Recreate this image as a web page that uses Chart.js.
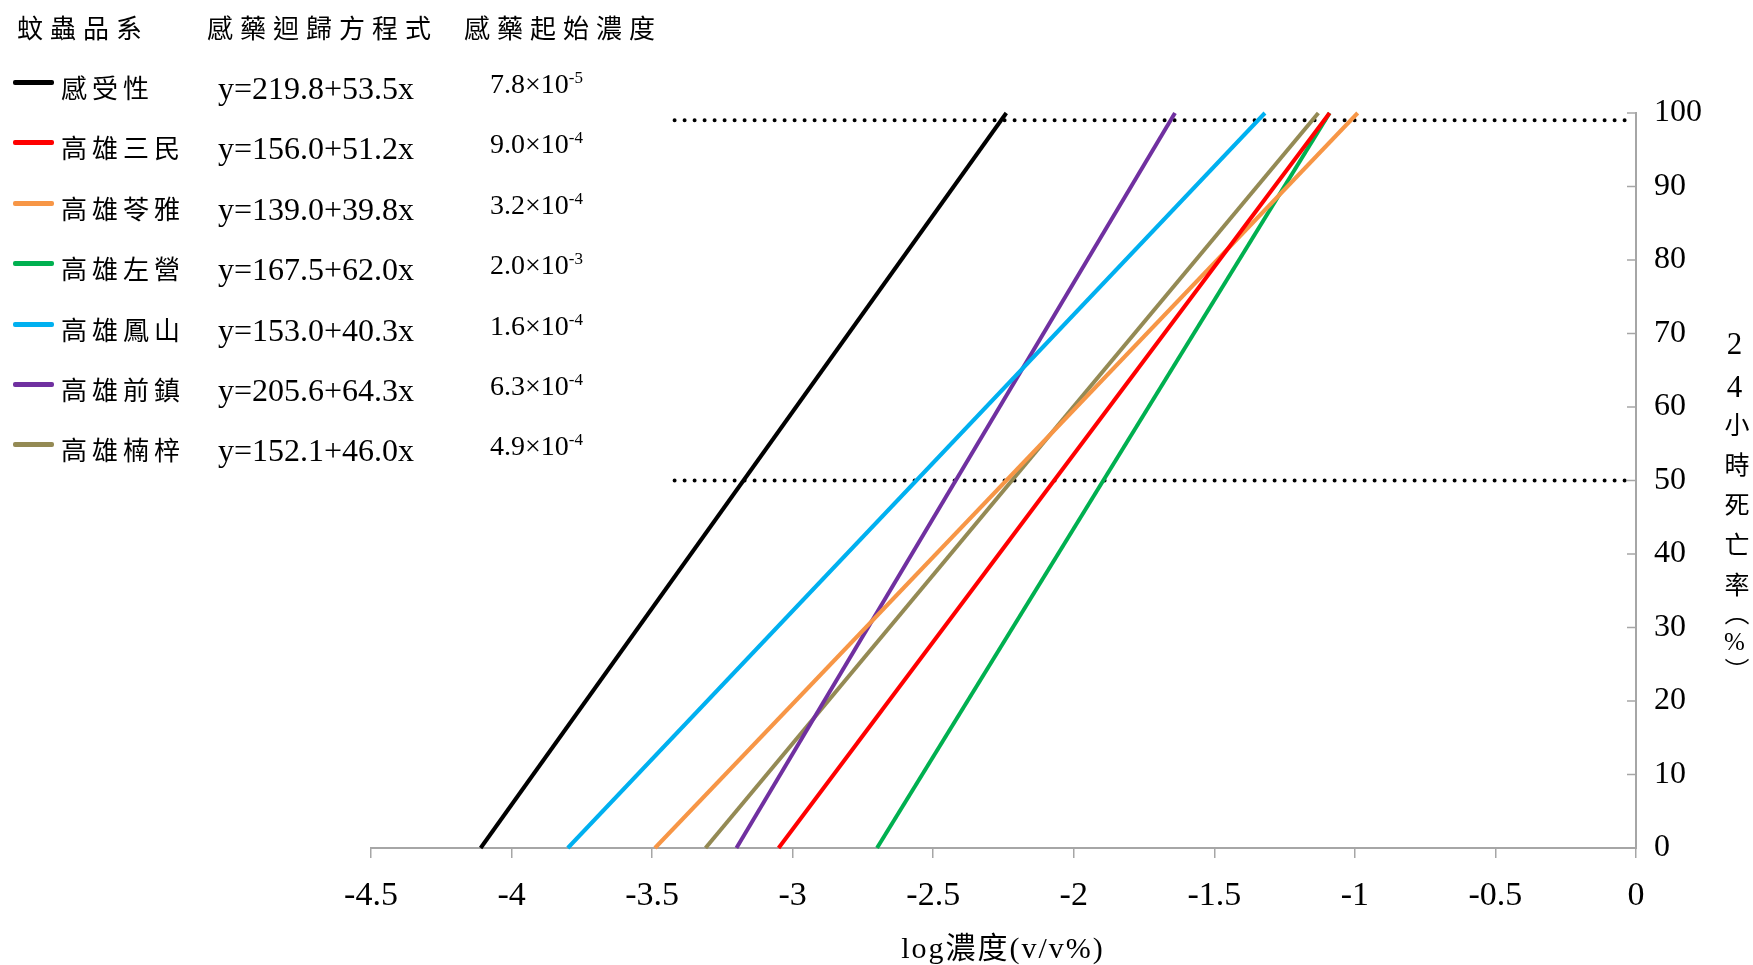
<!DOCTYPE html>
<html>
<head>
<meta charset="utf-8">
<script src="https://cdn.jsdelivr.net/npm/chart.js@4.4.1/dist/chart.umd.min.js"></script>
<style>
  body { margin: 0; background: #fff; }
  #wrap { position: relative; width: 1753px; height: 965px; overflow: hidden; }
  #chart { position: absolute; left: 0; top: 0; }
  .txt { position: absolute; white-space: nowrap; color: #000; line-height: 1; }
  .cjk { font-family: "Noto Sans CJK TC", sans-serif; font-size: 26px; }
  .num { font-family: "Liberation Serif", "Noto Sans CJK TC", serif; }
  .swatch { position: absolute; left: 13px; width: 41px; height: 5px; border-radius: 2px; }
  #ytitle {
    position: absolute; left: 1719px; top: 326px;
    writing-mode: vertical-rl; text-orientation: upright;
    font-family: "Liberation Serif", "Noto Sans CJK TC", serif;
    font-size: 25px; letter-spacing: 15px; line-height: 1;
  }
  #ytitle .dig { font-size: 31px; letter-spacing: 8px; }
  #ytitle .tight { letter-spacing: 3px; }
  #xtitle {
    position: absolute; left: 1003px; top: 933px; transform: translateX(-50%);
    font-family: "Liberation Serif", "Noto Sans CJK TC", serif;
    font-size: 30px; letter-spacing: 2px; line-height: 1; white-space: nowrap;
  }
  sup { font-size: 17px; vertical-align: 10px; line-height: 0; }
</style>
</head>
<body>
<div id="wrap">
  <canvas id="chart" width="1753" height="965"></canvas>
  <div class="txt cjk" style="left:17px;top:14px;letter-spacing:7px">蚊蟲品系</div>
  <div class="txt cjk" style="left:207px;top:14px;letter-spacing:7px">感藥迴歸方程式</div>
  <div class="txt cjk" style="left:464px;top:14px;letter-spacing:7px">感藥起始濃度</div>
  <div id="legend"></div>
  <div id="ytitle"><span class="dig">24</span>小時死亡<span class="tight">率（%）</span></div>
  <div id="xtitle">log濃度(v/v%)</div>
</div>
<script>
// 品系與迴歸式
const strains = ['感受性', '高雄三民', '高雄苓雅', '高雄左營', '高雄鳳山', '高雄前鎮', '高雄楠梓'];
const equations = ['y=219.8+53.5x', 'y=156.0+51.2x', 'y=139.0+39.8x', 'y=167.5+62.0x',
                   'y=153.0+40.3x', 'y=205.6+64.3x', 'y=152.1+46.0x'];
const onsetBase = ['7.8', '9.0', '3.2', '2.0', '1.6', '6.3', '4.9'];
const onsetExp = ['-5', '-4', '-4', '-3', '-4', '-4', '-4'];
const colors = ['#000000', '#ff0000', '#f79646', '#00b050', '#00b0f0', '#7030a0', '#948a54'];

// log 濃度 at 0% and 100% mortality
const logAt0 = [-4.11, -3.05, -3.49, -2.70, -3.80, -3.20, -3.31];
const logAt100 = [-2.24, -1.09, -0.99, -1.09, -1.32, -1.64, -1.13];
const mortality = [0, 100];

// dotted reference lines
const refLevels = [99, 50];
const refFrom = -3.42;
const refTo = -0.03;

const xTicks = [-4.5, -4, -3.5, -3, -2.5, -2, -1.5, -1, -0.5, 0];

// legend rows
const legend = document.getElementById('legend');
strains.forEach((name, i) => {
    const y = 87 + i * 60.4;
    legend.insertAdjacentHTML('beforeend',
        `<div class="swatch" style="top:${y - 7}px;background:${colors[i]}"></div>` +
        `<div class="txt cjk" style="left:61px;top:${y - 13}px;letter-spacing:5px">${name}</div>` +
        `<div class="txt num" style="left:218px;top:${y - 15}px;font-size:32px">${equations[i]}</div>` +
        `<div class="txt num" style="left:490px;top:${y - 17}px;font-size:28px">${onsetBase[i]}×10<sup>${onsetExp[i]}</sup></div>`);
});

Chart.defaults.font.family = '"Liberation Serif", "Noto Sans CJK TC", serif';
Chart.defaults.color = '#000';

const datasets = strains.map((name, i) => ({
    label: name,
    data: mortality.map((m, k) => ({ x: k === 0 ? logAt0[i] : logAt100[i], y: m })),
    borderColor: colors[i],
    borderWidth: 4,
    showLine: true,
    pointRadius: 0,
    clip: false
}));

refLevels.forEach(lv => {
    datasets.push({
        label: 'ref' + lv,
        data: [{ x: refFrom, y: lv }, { x: refTo, y: lv }],
        borderColor: '#000',
        borderWidth: 4,
        borderDash: [0, 10],
        borderCapStyle: 'round',
        showLine: true,
        pointRadius: 0,
        clip: false
    });
});

// y axis tick marks point inward (into the plot)
const innerTicks = {
    id: 'innerTicks',
    afterDraw(chart) {
        const s = chart.scales.y, ctx = chart.ctx;
        ctx.save();
        ctx.strokeStyle = '#a6a6a6';
        ctx.lineWidth = 1.5;
        s.ticks.forEach(t => {
            const py = s.getPixelForValue(t.value);
            ctx.beginPath();
            ctx.moveTo(s.left - 9, py);
            ctx.lineTo(s.left, py);
            ctx.stroke();
        });
        ctx.restore();
    }
};

new Chart(document.getElementById('chart'), {
    type: 'scatter',
    data: { datasets },
    plugins: [innerTicks],
    options: {
        responsive: false, animation: false,
        layout: { padding: { left: 371, top: 113, right: 0, bottom: 0 } },
        plugins: { legend: { display: false }, tooltip: { enabled: false } },
        scales: {
            x: {
                type: 'linear', min: -4.5, max: 0,
                afterBuildTicks: s => { s.ticks = xTicks.map(v => ({ value: v })); },
                ticks: { font: { size: 34 }, padding: 18, maxRotation: 0, autoSkip: false,
                         callback: v => String(v) },
                grid: { drawOnChartArea: false, tickLength: 10, color: '#a6a6a6', lineWidth: 1.5 },
                border: { color: '#a6a6a6', width: 2 },
                afterFit: s => { s.height = 117; }
            },
            y: {
                position: 'right', min: 0, max: 100,
                ticks: { stepSize: 10, font: { size: 32 }, padding: 18 },
                grid: { drawOnChartArea: false, drawTicks: false },
                border: { color: '#a6a6a6', width: 2 },
                afterFit: s => { s.width = 117; }
            }
        }
    }
});
</script>
</body>
</html>
